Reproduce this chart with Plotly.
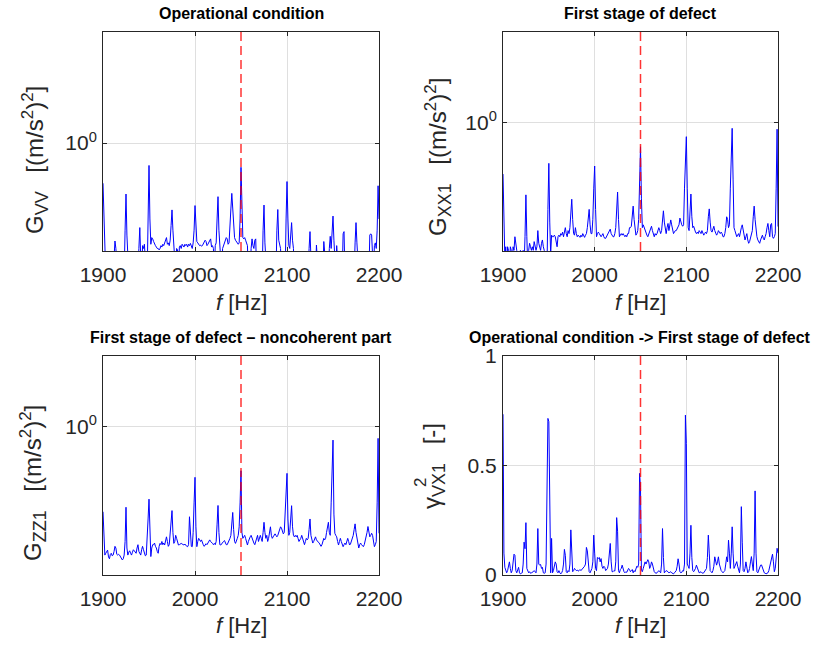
import plotly.graph_objects as go

# frequency axis (1 Hz resolution)
freq = list(range(1900, 2201))

# G_VV  - operational condition [(m/s^2)^2]
g_vv = [
    0.655, 0.40, 0.25, 0.25, 0.25, 0.25, 0.25, 0.25, 0.25, 0.25,
    0.25, 0.25, 0.30, 0.357, 0.33, 0.25, 0.25, 0.25, 0.25, 0.25,
    0.25, 0.25, 0.25, 0.25, 0.40, 0.585, 0.38, 0.25, 0.25, 0.25,
    0.25, 0.25, 0.25, 0.25, 0.25, 0.25, 0.25, 0.25, 0.25, 0.33,
    0.411, 0.30, 0.25, 0.34, 0.33, 0.345, 0.25, 0.25, 0.25, 0.45,
    0.79, 0.45, 0.345, 0.37, 0.365, 0.355, 0.345, 0.34, 0.335, 0.33,
    0.33, 0.325, 0.33, 0.34, 0.335, 0.345, 0.34, 0.35, 0.355, 0.37,
    0.345, 0.35, 0.34, 0.36, 0.42, 0.495, 0.40, 0.34, 0.32, 0.25,
    0.33, 0.325, 0.25, 0.335, 0.34, 0.33, 0.345, 0.34, 0.335, 0.345,
    0.34, 0.345, 0.335, 0.345, 0.34, 0.348, 0.34, 0.33, 0.35, 0.40,
    0.518, 0.40, 0.355, 0.35, 0.345, 0.34, 0.342, 0.338, 0.34, 0.345,
    0.35, 0.36, 0.355, 0.34, 0.345, 0.35, 0.36, 0.365, 0.335, 0.34,
    0.33, 0.25, 0.34, 0.35, 0.45, 0.569, 0.40, 0.33, 0.25, 0.25,
    0.33, 0.34, 0.35, 0.36, 0.37, 0.365, 0.345, 0.35, 0.40, 0.50,
    0.589, 0.50, 0.40, 0.37, 0.36, 0.355, 0.35, 0.345, 0.35, 0.45,
    0.775, 0.45, 0.37, 0.365, 0.37, 0.36, 0.35, 0.34, 0.25, 0.25,
    0.25, 0.33, 0.365, 0.34, 0.33, 0.36, 0.365, 0.25, 0.25, 0.25,
    0.25, 0.25, 0.25, 0.25, 0.40, 0.521, 0.35, 0.25, 0.25, 0.25,
    0.25, 0.25, 0.25, 0.25, 0.25, 0.25, 0.25, 0.25, 0.25, 0.40,
    0.497, 0.36, 0.34, 0.33, 0.25, 0.25, 0.25, 0.25, 0.25, 0.45,
    0.667, 0.45, 0.34, 0.33, 0.38, 0.433, 0.36, 0.33, 0.25, 0.25,
    0.25, 0.25, 0.25, 0.25, 0.25, 0.25, 0.25, 0.25, 0.25, 0.25,
    0.25, 0.25, 0.25, 0.25, 0.33, 0.394, 0.30, 0.25, 0.25, 0.25,
    0.25, 0.25, 0.342, 0.25, 0.25, 0.25, 0.25, 0.25, 0.25, 0.25,
    0.355, 0.30, 0.25, 0.25, 0.25, 0.25, 0.33, 0.375, 0.33, 0.40,
    0.464, 0.36, 0.25, 0.25, 0.34, 0.25, 0.25, 0.25, 0.25, 0.25,
    0.25, 0.385, 0.394, 0.25, 0.25, 0.25, 0.25, 0.25, 0.25, 0.25,
    0.25, 0.25, 0.25, 0.25, 0.35, 0.433, 0.35, 0.25, 0.25, 0.25,
    0.25, 0.25, 0.25, 0.25, 0.25, 0.25, 0.25, 0.25, 0.25, 0.25,
    0.38, 0.385, 0.38, 0.25, 0.25, 0.34, 0.35, 0.33, 0.40, 0.638,
    0.45,
]

# G_XX1 - first stage of defect
g_xx1 = [
    0.58, 0.30, 0.24, 0.27, 0.22, 0.27, 0.26, 0.22, 0.27, 0.26,
    0.22, 0.27, 0.26, 0.30, 0.28, 0.26, 0.22, 0.22, 0.22, 0.26,
    0.22, 0.22, 0.26, 0.22, 0.30, 0.466, 0.30, 0.22, 0.26, 0.28,
    0.27, 0.26, 0.27, 0.26, 0.285, 0.27, 0.26, 0.27, 0.32, 0.28,
    0.27, 0.26, 0.28, 0.29, 0.27, 0.26, 0.22, 0.22, 0.22, 0.40,
    0.649, 0.35, 0.25, 0.305, 0.30, 0.30, 0.305, 0.30, 0.28, 0.27,
    0.30, 0.305, 0.30, 0.31, 0.305, 0.315, 0.30, 0.32, 0.33, 0.31,
    0.30, 0.32, 0.31, 0.33, 0.38, 0.445, 0.36, 0.31, 0.305, 0.33,
    0.31, 0.30, 0.305, 0.30, 0.298, 0.305, 0.30, 0.31, 0.30, 0.298,
    0.305, 0.31, 0.33, 0.36, 0.40, 0.34, 0.31, 0.31, 0.36, 0.50,
    0.631, 0.40, 0.30, 0.31, 0.315, 0.31, 0.305, 0.30, 0.305, 0.31,
    0.30, 0.295, 0.295, 0.30, 0.31, 0.315, 0.32, 0.325, 0.31, 0.305,
    0.30, 0.30, 0.31, 0.33, 0.40, 0.48, 0.36, 0.30, 0.305, 0.31,
    0.305, 0.31, 0.305, 0.30, 0.305, 0.30, 0.31, 0.31, 0.33, 0.33,
    0.335, 0.37, 0.414, 0.36, 0.32, 0.305, 0.31, 0.32, 0.36, 0.55,
    0.773, 0.45, 0.33, 0.34, 0.33, 0.32, 0.31, 0.305, 0.30, 0.31,
    0.32, 0.33, 0.335, 0.32, 0.31, 0.30, 0.31, 0.305, 0.31, 0.32,
    0.33, 0.32, 0.31, 0.32, 0.36, 0.394, 0.35, 0.32, 0.31, 0.33,
    0.345, 0.32, 0.34, 0.358, 0.34, 0.32, 0.31, 0.315, 0.32, 0.32,
    0.325, 0.33, 0.34, 0.365, 0.35, 0.34, 0.335, 0.34, 0.50, 0.75,
    0.859, 0.50, 0.33, 0.32, 0.40, 0.47, 0.37, 0.33, 0.335, 0.32,
    0.315, 0.31, 0.315, 0.31, 0.32, 0.315, 0.31, 0.32, 0.31, 0.305,
    0.31, 0.315, 0.31, 0.32, 0.37, 0.402, 0.35, 0.32, 0.315, 0.33,
    0.335, 0.32, 0.31, 0.305, 0.31, 0.32, 0.315, 0.31, 0.315, 0.31,
    0.30, 0.30, 0.31, 0.33, 0.37, 0.36, 0.33, 0.34, 0.50, 0.80,
    0.938, 0.55, 0.33, 0.32, 0.31, 0.30, 0.305, 0.31, 0.30, 0.32,
    0.33, 0.34, 0.32, 0.30, 0.29, 0.30, 0.31, 0.29, 0.28, 0.285,
    0.30, 0.31, 0.32, 0.37, 0.414, 0.36, 0.31, 0.30, 0.29, 0.285,
    0.28, 0.29, 0.30, 0.305, 0.295, 0.29, 0.30, 0.31, 0.33, 0.345,
    0.32, 0.30, 0.34, 0.345, 0.30, 0.295, 0.30, 0.31, 0.50, 0.929,
    0.334,
]

# G_ZZ1 - first stage of defect, noncoherent part
g_zz1 = [
    0.41, 0.30, 0.26, 0.265, 0.272, 0.274, 0.255, 0.25, 0.262, 0.265,
    0.258, 0.26, 0.27, 0.285, 0.28, 0.262, 0.26, 0.262, 0.26, 0.255,
    0.25, 0.247, 0.25, 0.26, 0.30, 0.43, 0.28, 0.26, 0.268, 0.272,
    0.265, 0.26, 0.268, 0.275, 0.272, 0.268, 0.265, 0.28, 0.29, 0.27,
    0.265, 0.26, 0.275, 0.285, 0.275, 0.265, 0.258, 0.26, 0.30, 0.38,
    0.468, 0.30, 0.256, 0.28, 0.29, 0.29, 0.295, 0.285, 0.28, 0.27,
    0.265, 0.285, 0.294, 0.29, 0.30, 0.29, 0.295, 0.289, 0.30, 0.315,
    0.30, 0.285, 0.29, 0.32, 0.38, 0.415, 0.33, 0.294, 0.30, 0.32,
    0.31, 0.295, 0.289, 0.29, 0.292, 0.294, 0.292, 0.29, 0.289, 0.292,
    0.287, 0.285, 0.284, 0.29, 0.389, 0.32, 0.285, 0.284, 0.33, 0.45,
    0.589, 0.35, 0.284, 0.30, 0.31, 0.305, 0.30, 0.305, 0.295, 0.29,
    0.285, 0.29, 0.293, 0.29, 0.294, 0.30, 0.305, 0.30, 0.298, 0.294,
    0.29, 0.294, 0.29, 0.30, 0.36, 0.438, 0.33, 0.29, 0.289, 0.294,
    0.296, 0.30, 0.303, 0.295, 0.29, 0.29, 0.296, 0.30, 0.31, 0.32,
    0.36, 0.407, 0.34, 0.30, 0.294, 0.30, 0.31, 0.32, 0.35, 0.45,
    0.631, 0.33, 0.31, 0.315, 0.32, 0.31, 0.30, 0.289, 0.30, 0.31,
    0.315, 0.32, 0.31, 0.30, 0.295, 0.29, 0.30, 0.31, 0.32, 0.30,
    0.31, 0.32, 0.31, 0.30, 0.33, 0.367, 0.33, 0.31, 0.32, 0.30,
    0.31, 0.33, 0.35, 0.32, 0.31, 0.315, 0.32, 0.325, 0.32, 0.315,
    0.32, 0.33, 0.34, 0.35, 0.345, 0.33, 0.325, 0.33, 0.40, 0.52,
    0.614, 0.38, 0.32, 0.33, 0.38, 0.437, 0.35, 0.32, 0.315, 0.32,
    0.315, 0.32, 0.31, 0.30, 0.305, 0.31, 0.32, 0.31, 0.30, 0.29,
    0.30, 0.31, 0.305, 0.31, 0.34, 0.38, 0.32, 0.30, 0.295, 0.30,
    0.31, 0.315, 0.305, 0.30, 0.298, 0.295, 0.29, 0.285, 0.29, 0.30,
    0.31, 0.305, 0.31, 0.33, 0.35, 0.367, 0.33, 0.32, 0.45, 0.70,
    0.871, 0.40, 0.327, 0.32, 0.315, 0.30, 0.289, 0.30, 0.31, 0.30,
    0.29, 0.284, 0.29, 0.295, 0.29, 0.30, 0.31, 0.30, 0.289, 0.292,
    0.30, 0.31, 0.32, 0.34, 0.361, 0.33, 0.315, 0.30, 0.28, 0.29,
    0.295, 0.29, 0.285, 0.284, 0.29, 0.30, 0.31, 0.33, 0.351, 0.33,
    0.315, 0.32, 0.327, 0.32, 0.30, 0.284, 0.29, 0.30, 0.45, 0.887,
    0.327,
]

# coherence gamma^2_VX1 [-]
coh_vx1 = [
    0.734, 0.10, 0.035, 0.02, 0.01, 0.02, 0.045, 0.06, 0.03, 0.01,
    0.02, 0.06, 0.095, 0.09, 0.02, 0.01, 0.03, 0.035, 0.01, 0.005,
    0.008, 0.01, 0.05, 0.15, 0.12, 0.239, 0.03, 0.02, 0.01, 0.015,
    0.008, 0.01, 0.012, 0.015, 0.02, 0.015, 0.01, 0.05, 0.212, 0.05,
    0.045, 0.048, 0.03, 0.035, 0.01, 0.008, 0.01, 0.05, 0.40, 0.715,
    0.70, 0.20, 0.01, 0.167, 0.01, 0.02, 0.035, 0.06, 0.05, 0.015,
    0.01, 0.02, 0.01, 0.005, 0.01, 0.02, 0.05, 0.117, 0.09, 0.015,
    0.01, 0.02, 0.015, 0.05, 0.206, 0.10, 0.015, 0.02, 0.03, 0.025,
    0.02, 0.022, 0.018, 0.02, 0.025, 0.02, 0.025, 0.03, 0.03, 0.04,
    0.05, 0.126, 0.11, 0.06, 0.015, 0.01, 0.02, 0.03, 0.06, 0.182,
    0.10, 0.03, 0.02, 0.08, 0.075, 0.08, 0.06, 0.075, 0.04, 0.03,
    0.04, 0.035, 0.02, 0.025, 0.03, 0.05, 0.10, 0.144, 0.06, 0.015,
    0.015, 0.02, 0.018, 0.06, 0.262, 0.20, 0.02, 0.01, 0.025, 0.03,
    0.045, 0.02, 0.015, 0.01, 0.015, 0.012, 0.02, 0.03, 0.025, 0.015,
    0.02, 0.025, 0.01, 0.02, 0.015, 0.03, 0.04, 0.035, 0.05, 0.464,
    0.40, 0.02, 0.015, 0.03, 0.045, 0.06, 0.05, 0.065, 0.07, 0.06,
    0.03, 0.04, 0.06, 0.05, 0.03, 0.015, 0.01, 0.008, 0.01, 0.015,
    0.02, 0.015, 0.01, 0.05, 0.212, 0.08, 0.01, 0.015, 0.02, 0.018,
    0.015, 0.01, 0.012, 0.015, 0.01, 0.008, 0.005, 0.01, 0.015, 0.02,
    0.04, 0.074, 0.05, 0.015, 0.01, 0.012, 0.02, 0.018, 0.05, 0.73,
    0.60, 0.05, 0.04, 0.03, 0.10, 0.227, 0.08, 0.02, 0.015, 0.02,
    0.03, 0.045, 0.03, 0.015, 0.01, 0.012, 0.015, 0.01, 0.008, 0.01,
    0.015, 0.02, 0.03, 0.08, 0.182, 0.10, 0.02, 0.015, 0.01, 0.02,
    0.04, 0.083, 0.06, 0.045, 0.06, 0.083, 0.05, 0.03, 0.02, 0.015,
    0.01, 0.015, 0.02, 0.05, 0.083, 0.06, 0.159, 0.10, 0.03, 0.10,
    0.22, 0.10, 0.03, 0.04, 0.05, 0.061, 0.04, 0.015, 0.01, 0.05,
    0.312, 0.15, 0.02, 0.015, 0.03, 0.06, 0.04, 0.01, 0.015, 0.03,
    0.06, 0.084, 0.05, 0.02, 0.10, 0.384, 0.10, 0.015, 0.01, 0.02,
    0.03, 0.045, 0.046, 0.03, 0.015, 0.01, 0.008, 0.005, 0.008, 0.01,
    0.02, 0.04, 0.061, 0.08, 0.095, 0.06, 0.015, 0.03, 0.08, 0.122,
    0.10,
]

for s in (g_vv, g_xx1, g_zz1, coh_vx1):
    assert len(s) == len(freq), len(s)

f_mark = 2050
titles = ["Operational condition", "First stage of defect",
          "First stage of defect \u2013 noncoherent part",
          "Operational condition -> First stage of defect"]
x_ticks = [1900, 2000, 2100, 2200]

W, H = 818, 646
FONT = "Liberation Sans, Arial, sans-serif"
AX = "#262626"
GRID = "#dfdfdf"

def px(x):
    return x / W

def py(y):
    return 1 - y / H

# axes boxes in pixels: (left, right, top, bottom)
boxes = [(103, 379, 32, 251), (503, 778, 32, 251),
         (103, 379, 356, 575), (503, 778, 356, 575)]

fig = go.Figure()
series = [g_vv, g_xx1, g_zz1, coh_vx1]
for i, s in enumerate(series):
    k = "" if i == 0 else str(i + 1)
    fig.add_trace(go.Scatter(x=freq, y=s, mode="lines",
                             line=dict(color="#0000ff", width=1),
                             xaxis="x" + k, yaxis="y" + k, showlegend=False,
                             hoverinfo="skip"))

layout = dict(template="none", width=W, height=H,
              margin=dict(l=0, r=0, t=0, b=0, pad=0, autoexpand=False),
              paper_bgcolor="white", plot_bgcolor="white", showlegend=False,
              font=dict(family=FONT, color=AX, size=20))

yranges = [[-0.493, 0.507], [-0.588, 0.412], [-0.676, 0.324], [0, 1]]
for i, (l, r, t, b) in enumerate(boxes):
    k = "" if i == 0 else str(i + 1)
    xa = dict(domain=[px(l), px(r)], range=[1900, 2200], tickvals=x_ticks,
              automargin=False, ticklabelstandoff=5,
              showgrid=True, gridcolor=GRID, gridwidth=1, zeroline=False,
              showline=True, linecolor=AX, linewidth=1, mirror="ticks",
              ticks="inside", ticklen=4, tickcolor=AX,
              tickfont=dict(size=21, color=AX, family=FONT),
              anchor="y" + k)
    if i < 3:
        ya = dict(type="log", range=yranges[i], tickvals=[1],
                  ticktext=["10<sup>0</sup>"])
    else:
        ya = dict(range=yranges[i], tickvals=[0, 0.5, 1],
                  ticktext=["0", "0.5", "1"])
    ya.update(domain=[py(b), py(t)], showgrid=True, gridcolor=GRID,
              automargin=False, ticklabelstandoff=1,
              gridwidth=1, zeroline=False, showline=True, linecolor=AX,
              linewidth=1, mirror="ticks", ticks="inside", ticklen=4,
              tickcolor=AX, tickfont=dict(size=21, color=AX, family=FONT),
              anchor="x" + k)
    layout["xaxis" + k] = xa
    layout["yaxis" + k] = ya

fig.update_layout(**layout)

shapes = []
for i in range(4):
    k = "" if i == 0 else str(i + 1)
    shapes.append(dict(type="line", xref="x" + k, yref="y" + k + " domain",
                       x0=f_mark, x1=f_mark, y0=0, y1=1,
                       line=dict(color="rgba(255,0,0,0.8)", width=1.5,
                                 dash="9px,5px"), layer="above"))
fig.update_layout(shapes=shapes)

ann = []
title_pos = [(241, 13), (640, 13), (241, 337), (640, 337)]
for (x, y), t in zip(title_pos, titles):
    ann.append(dict(text="<b>" + t + "</b>", x=px(x), y=py(y), xref="paper",
                    yref="paper", showarrow=False, xanchor="center",
                    yanchor="middle", font=dict(size=16, color="black",
                                                family=FONT)))
for x, y in [(241, 302), (640, 302), (241, 625), (640, 625)]:
    ann.append(dict(text="<i>f</i> [Hz]", x=px(x), y=py(y), xref="paper",
                    yref="paper", showarrow=False, xanchor="center",
                    yanchor="middle", font=dict(size=22, color=AX,
                                                family=FONT)))

def sub(t):
    return '<sub><span style="font-size:18px">' + t + '</span></sub>'

def sup(t):
    return '<sup><span style="font-size:17px">' + t + '</span></sup>'

unit = "\u2002 [(m/s" + sup("2") + ")" + sup("2") + "]"
ylabels = [("G" + sub("VV") + unit, 35, 160),
           ("G" + sub("XX1") + unit, 438, 157),
           ("G" + sub("ZZ1") + unit, 33, 483),
           ("\u03b3" + sub("VX1") + "\u2002 [-]", 433, 466)]
for t, x, y in ylabels:
    ann.append(dict(text=t, x=px(x), y=py(y), xref="paper", yref="paper",
                    showarrow=False, textangle=-90, xanchor="center",
                    yanchor="middle", font=dict(size=24, color=AX,
                                                family=FONT)))
# superscript 2 of gamma
ann.append(dict(text="2", x=px(420), y=py(483), xref="paper", yref="paper",
                showarrow=False, textangle=-90, xanchor="center",
                yanchor="middle", font=dict(size=17, color=AX, family=FONT)))
fig.update_layout(annotations=ann)

fig.write_html("out.html")
